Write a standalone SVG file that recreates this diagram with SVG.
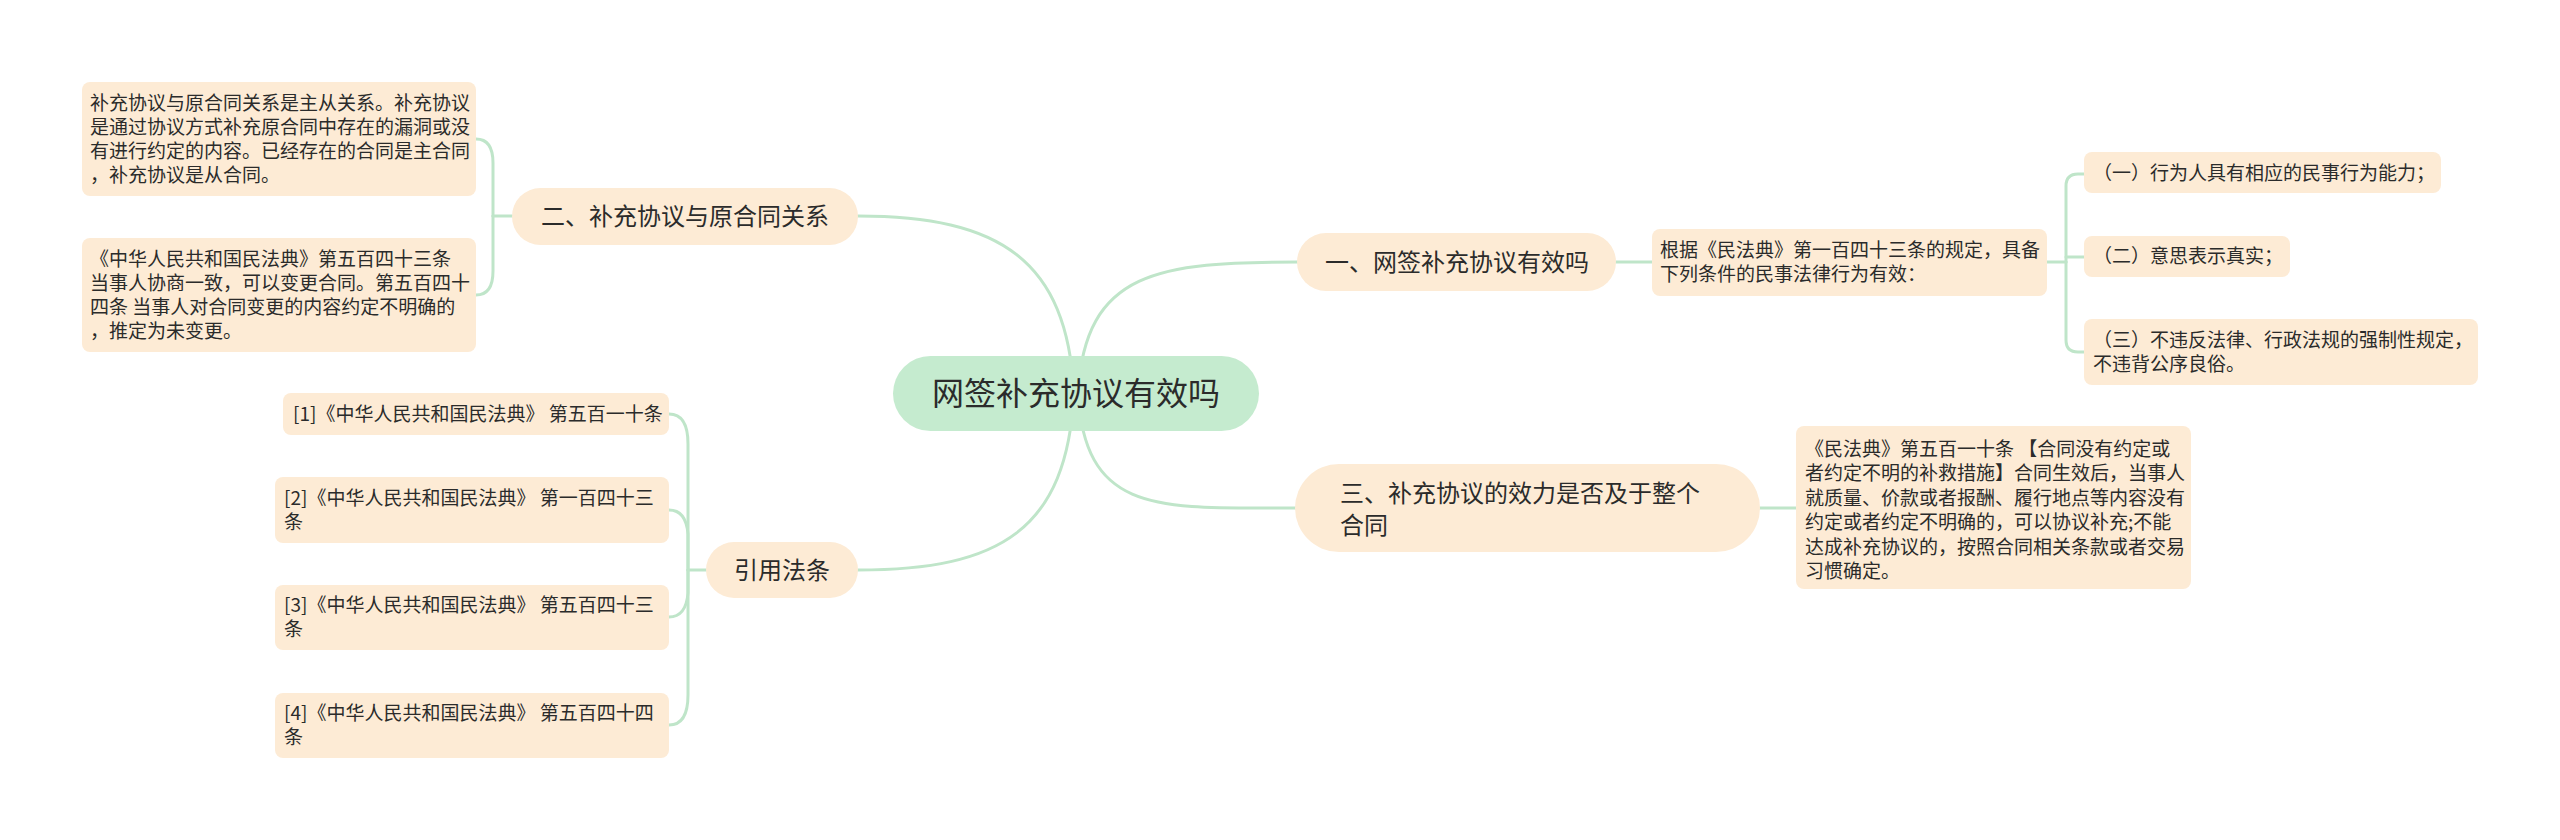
<svg xmlns="http://www.w3.org/2000/svg" width="2560" height="840" viewBox="0 0 2560 840">
<style>
text{font-family:"Noto Sans CJK SC","Noto Sans",sans-serif;fill:#2b2b2b}
.root{fill:#c5ebcf}
.n1{fill:#fdebd5}
.d{fill:#fdebd5}
.t32{font-size:32px}
.t24{font-size:24px}
.t19{font-size:19px}
.c{text-anchor:middle}
#connectors path{fill:none;stroke:#bfe5c9;stroke-width:3;stroke-linecap:round}
</style>
<rect width="2560" height="840" fill="#ffffff"/>
<g id="connectors">
<path d="M1078 393 C1085 270 1160 262 1298 262"/>
<path d="M1078 393 C1085 516 1160 508 1296 508"/>
<path d="M1074 393 C1067 260 1000 216 858 216"/>
<path d="M1074 393 C1067 530 1000 570 858 570"/>
<path d="M1616 262 H1652"/>
<path d="M2047 262 H2066"/>
<path d="M2066 262 V186 Q2066 174 2078 174 H2084"/>
<path d="M2066 257 H2084"/>
<path d="M2066 262 V340 Q2066 352 2078 352 H2084"/>
<path d="M1760 508 H1796"/>
<path d="M512 216 H493"/>
<path d="M493 216 V163 Q493 139 476 139"/>
<path d="M493 216 V271 Q493 295 476 295"/>
<path d="M706 570 H688"/>
<path d="M688 570 V444 Q688 414 669 414"/>
<path d="M688 570 V534 Q686 510 669 510"/>
<path d="M688 570 V593 Q686 617 669 617"/>
<path d="M688 570 V695 Q688 725 669 725"/>
</g>
<g id="root">
<rect class="root" x="893" y="356" width="366" height="75" rx="37.5"/>
<text class="t32 c" x="1076" y="405">网签补充协议有效吗</text>
</g>
<g id="n-one">
<rect class="n1" x="1297" y="233" width="319" height="58" rx="29"/>
<text class="t24 c" x="1457" y="271">一、网签补充协议有效吗</text>
</g>
<g id="n-one-d">
<rect class="d" x="1652" y="229" width="395" height="67" rx="8"/>
<text class="t19" x="1660" y="257">根据《民法典》第一百四十三条的规定，具备</text>
<text class="t19" x="1660" y="281">下列条件的民事法律行为有效：</text>
</g>
<g id="n-one-a">
<rect class="d" x="2084" y="152" width="357" height="41" rx="8"/>
<text class="t19" x="2093" y="180">（一）行为人具有相应的民事行为能力；</text>
</g>
<g id="n-one-b">
<rect class="d" x="2084" y="236" width="206" height="41" rx="8"/>
<text class="t19" x="2093" y="263">（二）意思表示真实；</text>
</g>
<g id="n-one-c">
<rect class="d" x="2084" y="319" width="394" height="66" rx="8"/>
<text class="t19" x="2093" y="347">（三）不违反法律、行政法规的强制性规定，</text>
<text class="t19" x="2093" y="371">不违背公序良俗。</text>
</g>
<g id="n-three">
<rect class="n1" x="1295" y="464" width="465" height="88" rx="44"/>
<text class="t24" x="1340" y="502">三、补充协议的效力是否及于整个</text>
<text class="t24" x="1340" y="534">合同</text>
</g>
<g id="n-three-d">
<rect class="d" x="1796" y="426" width="395" height="163" rx="8"/>
<text class="t19" x="1805" y="456">《民法典》第五百一十条 【合同没有约定或</text>
<text class="t19" x="1805" y="480.4">者约定不明的补救措施】合同生效后，当事人</text>
<text class="t19" x="1805" y="504.8">就质量、价款或者报酬、履行地点等内容没有</text>
<text class="t19" x="1805" y="529.2">约定或者约定不明确的，可以协议补充;不能</text>
<text class="t19" x="1805" y="553.6">达成补充协议的，按照合同相关条款或者交易</text>
<text class="t19" x="1805" y="578">习惯确定。</text>
</g>
<g id="n-two">
<rect class="n1" x="512" y="188" width="346" height="57" rx="28.5"/>
<text class="t24 c" x="685" y="225">二、补充协议与原合同关系</text>
</g>
<g id="n-two-a">
<rect class="d" x="82" y="82" width="394" height="114" rx="8"/>
<text class="t19" x="90" y="110">补充协议与原合同关系是主从关系。补充协议</text>
<text class="t19" x="90" y="134">是通过协议方式补充原合同中存在的漏洞或没</text>
<text class="t19" x="90" y="158">有进行约定的内容。已经存在的合同是主合同</text>
<text class="t19" x="90" y="182">，补充协议是从合同。</text>
</g>
<g id="n-two-b">
<rect class="d" x="82" y="238" width="394" height="114" rx="8"/>
<text class="t19" x="90" y="266">《中华人民共和国民法典》第五百四十三条</text>
<text class="t19" x="90" y="290">当事人协商一致，可以变更合同。第五百四十</text>
<text class="t19" x="90" y="314">四条 当事人对合同变更的内容约定不明确的</text>
<text class="t19" x="90" y="338">，推定为未变更。</text>
</g>
<g id="n-ref">
<rect class="n1" x="706" y="542" width="152" height="56" rx="28"/>
<text class="t24 c" x="782" y="579">引用法条</text>
</g>
<g id="n-ref-1">
<rect class="d" x="283" y="393" width="386" height="42" rx="8"/>
<text class="t19" x="293" y="421">[1]《中华人民共和国民法典》 第五百一十条</text>
</g>
<g id="n-ref-2">
<rect class="d" x="275" y="477" width="394" height="66" rx="8"/>
<text class="t19" x="284" y="505">[2]《中华人民共和国民法典》 第一百四十三</text>
<text class="t19" x="284" y="529">条</text>
</g>
<g id="n-ref-3">
<rect class="d" x="275" y="585" width="394" height="65" rx="8"/>
<text class="t19" x="284" y="612">[3]《中华人民共和国民法典》 第五百四十三</text>
<text class="t19" x="284" y="636">条</text>
</g>
<g id="n-ref-4">
<rect class="d" x="275" y="693" width="394" height="65" rx="8"/>
<text class="t19" x="284" y="720">[4]《中华人民共和国民法典》 第五百四十四</text>
<text class="t19" x="284" y="744">条</text>
</g>
</svg>
